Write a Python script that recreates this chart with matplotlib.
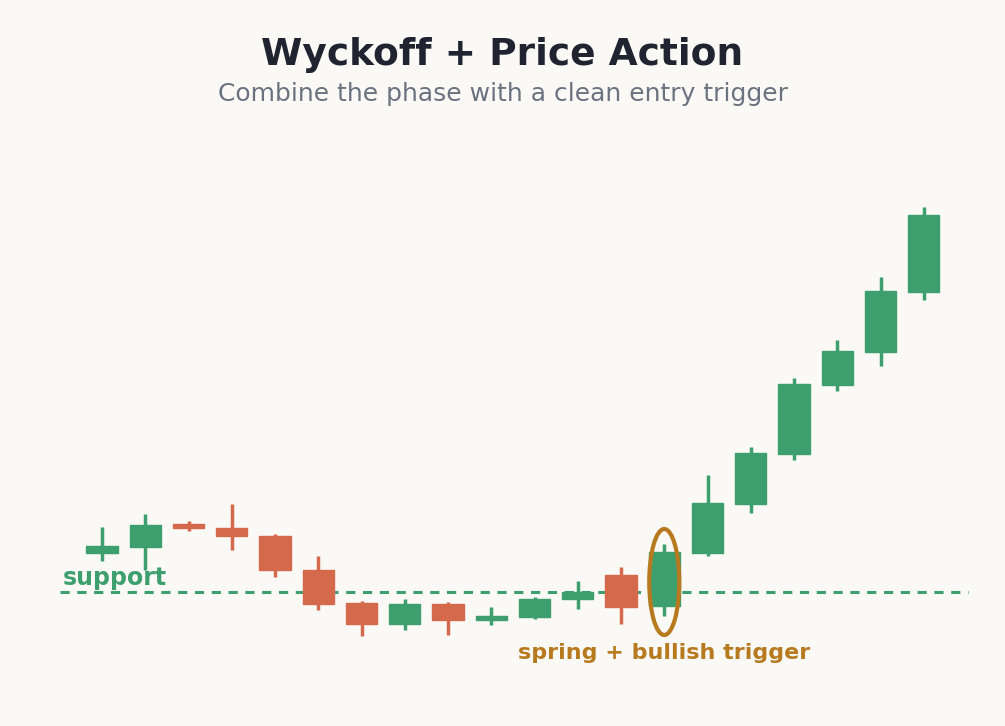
import matplotlib
matplotlib.use("Agg")
import matplotlib.pyplot as plt
from matplotlib.patches import Ellipse, Rectangle

def v(p): return (700 - p) / 10.0
opens  = [v(p) for p in [553,547,524,528,536,570,603,624,604,620,617,599,575,606,553,504,454,385,352,292]]
closes = [v(p) for p in [546,525,528,536,570,604,624,604,620,616,599,592,607,552,503,453,384,351,291,215]]
highs  = [v(p) for p in [527,514,521,504,534,556,601,599,602,607,597,581,567,544,475,447,378,340,277,207]]
lows   = [v(p) for p in [561,570,531,550,577,610,636,630,635,625,619,609,624,616,556,513,460,391,366,300]]
support = v(592)

GREEN, RED, BG, GOLD = "#3d9e6e", "#d4694b", "#faf9f5", "#b87a1f"
fig = plt.figure(figsize=(10.05, 7.26), dpi=100, facecolor=BG)
ax = fig.add_axes([0, 0, 1, 1], facecolor=BG)
step = 43.25
ax.set_xlim(-102/step, (1005-102)/step)
ax.set_ylim(v(726), v(0))
ax.axis("off")
for i, (o, c, h, l) in enumerate(zip(opens, closes, highs, lows)):
    col = GREEN if c >= o else RED
    ax.plot([i, i], [l, h], color=col, lw=2.5, solid_capstyle="butt", zorder=2)
    ax.add_patch(Rectangle((i-0.36, min(o, c)), 0.72, max(abs(c-o), 0.4), color=col, zorder=3))
ax.plot([(60-102)/step, (968-102)/step], [support, support], color=GREEN, lw=2.2, ls=(0, (3, 2.5)), zorder=1)
ax.text((63-102)/step, support+1.4, "support", color=GREEN, fontsize=17, fontweight="bold", va="center", ha="left")
ax.add_patch(Ellipse((13, v(582)), 30/step, 10.6, fill=False, ec=GOLD, lw=3, zorder=4))
ax.text(13, v(653), "spring + bullish trigger", color=GOLD, fontsize=16, fontweight="bold", ha="center", va="center")
fig.text(0.5, 1-55/726, "Wyckoff + Price Action", ha="center", va="center", fontsize=27, fontweight="bold", color="#1f2430")
fig.text(0.5, 1-94/726, "Combine the phase with a clean entry trigger", ha="center", va="center", fontsize=18, color="#6b7280")
fig.savefig("out.png", dpi=100, facecolor=BG)
